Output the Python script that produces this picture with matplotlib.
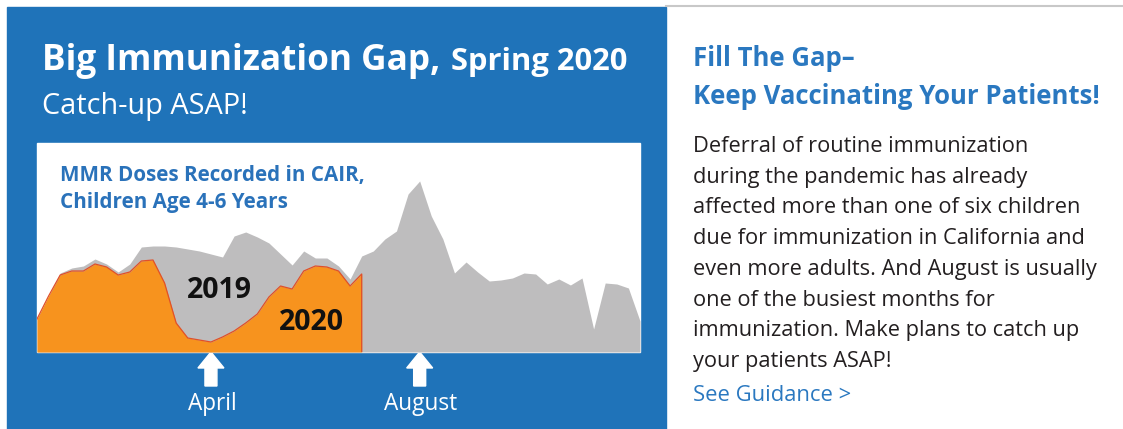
import matplotlib.pyplot as plt
from matplotlib.patches import Rectangle, Polygon

plt.rcParams['font.family'] = ['Open Sans', 'DejaVu Sans']

# weekly MMR doses (relative height), 2019 full year and 2020 up to late July
weeks = list(range(53))
doses_2019 = [33, 56, 79, 84, 86, 93, 88, 80, 88, 105, 106, 106, 105, 103, 101, 98,
              95, 116, 120, 115, 109, 98, 87, 101, 94, 94, 86, 73, 96, 101, 113, 121,
              158, 171, 136, 113, 79, 90, 80, 71, 72, 74, 79, 78, 68, 73, 67, 74,
              23, 69, 68, 64, 31]
doses_2020 = [33, 56, 77, 81, 81, 88, 85, 77, 80, 91, 92, 69, 29, 14, 12, 10,
              15, 21, 29, 38, 55, 66, 63, 81, 86, 85, 81, 66, 78]
weeks_2020 = weeks[:len(doses_2020)]
month_labels = ['April', 'August']
month_weeks = [15, 33]

body_lines = [
    'Deferral of routine immunization',
    'during the pandemic has already',
    'affected more than one of six children',
    'due for immunization in California and',
    'even more adults. And August is usually',
    'one of the busiest months for',
    'immunization. Make plans to catch up',
    'your patients ASAP!',
]

BLUE = '#1F73B9'
ORANGE = '#F7931E'
GREY = '#BEBDBE'
W, H = 1123, 429

fig = plt.figure(figsize=(W / 100, H / 100), dpi=100)
bg = fig.add_axes([0, 0, 1, 1])
bg.set_xlim(0, W)
bg.set_ylim(H, 0)
bg.axis('off')

# panels
bg.add_patch(Rectangle((7, 7), 659, 430, color=BLUE, zorder=0))
bg.plot([666, W], [6, 6], color='#C8C8C8', lw=1.5)
bg.add_patch(Rectangle((37, 143), 603, 209, color='white', zorder=1))

# left panel headings
t1 = bg.text(42, 70, 'Big Immunization Gap,', color='white', fontsize=25.3,
             fontweight='bold', va='baseline')
fig.canvas.draw()
x_end = t1.get_window_extent().x1
bg.text(x_end + 11, 70, 'Spring 2020', color='white', fontsize=22.2,
        fontweight='bold', va='baseline')
bg.text(42, 114, 'Catch-up ASAP!', color='white', fontsize=20.8, va='baseline')

# chart
ax = fig.add_axes([37 / W, (H - 352) / H, 603 / W, 209 / H])
ax.set_xlim(0, 52)
ax.set_ylim(0, 209)
ax.axis('off')
ax.fill_between(weeks, doses_2019, color=GREY, lw=0)
ax.fill_between(weeks_2020, doses_2020, color=ORANGE, lw=0)
ax.plot(weeks_2020 + [weeks_2020[-1]], doses_2020 + [0], color='#E0502A', lw=0.9)
ax.text(15.7, 62, '2019', fontsize=20.5, fontweight='bold', ha='center', va='center', color='#111111')
ax.text(23.7, 29, '2020', fontsize=20.5, fontweight='bold', ha='center', va='center', color='#111111')
ax.text(2, 163, 'MMR Doses Recorded in CAIR,\nChildren Age 4-6 Years', fontsize=14.9,
        fontweight='bold', color='#2A72BA', va='center', linespacing=1.4)

# month arrows under the chart
for label, wk in zip(month_labels, month_weeks):
    xp = ax.transData.transform((wk, 0))[0]
    arrow = Polygon([(xp, 352), (xp + 13, 368), (xp + 6, 368), (xp + 6, 386),
                     (xp - 6, 386), (xp - 6, 368), (xp - 13, 368)],
                    closed=True, color='white', zorder=3)
    bg.add_patch(arrow)
    bg.text(xp + 1, 404, label, color='white', fontsize=16.3, ha='center', va='center')

# right panel
bg.text(693, 58, 'Fill The Gap\u2013', color='#2A78C0', fontsize=18.5,
        fontweight='bold', va='center')
bg.text(693, 97, 'Keep Vaccinating Your Patients!', color='#2A78C0', fontsize=18.5,
        fontweight='bold', va='center')
for i, line in enumerate(body_lines):
    bg.text(693, 152 + i * 30.7, line, color='#231F20', fontsize=15.7, va='baseline')
bg.text(693, 401, 'See Guidance >', color='#2A78C0', fontsize=15.8, va='baseline')

fig.savefig('out.png', dpi=100)
